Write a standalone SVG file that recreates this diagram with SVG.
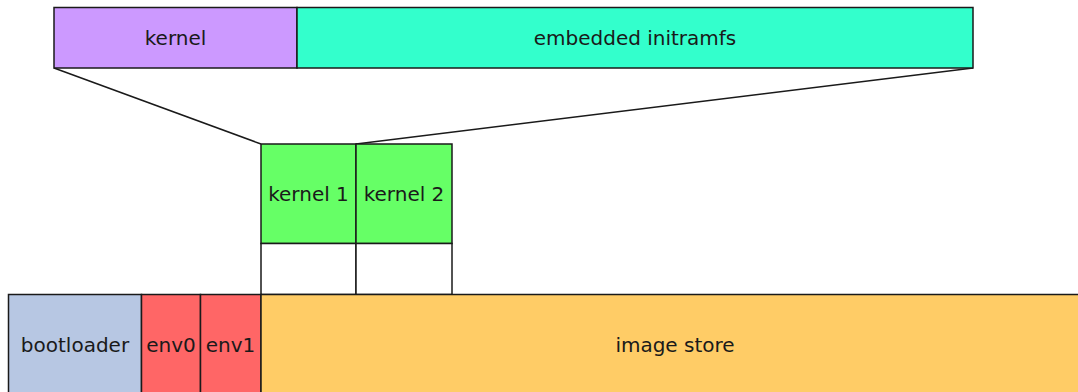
<svg xmlns="http://www.w3.org/2000/svg" width="1078" height="392" viewBox="0 0 1078 392">
  <style>
    .box { stroke: #1a1a1a; stroke-width: 1.5; }
    .conn { stroke: #1a1a1a; stroke-width: 1.5; fill: none; }
    text { font-family: "DejaVu Sans", sans-serif; font-size: 20px; fill: #1a1a1a; text-anchor: middle; dominant-baseline: central; }
  </style>
  <rect x="0" y="0" width="1078" height="392" fill="#ffffff"/>

  <!-- zoom-out lines from the kernel slot to the image layout -->
  <g id="connectors">
    <line class="conn" x1="54" y1="68" x2="261" y2="144"/>
    <line class="conn" x1="973" y1="68" x2="356" y2="144"/>
  </g>

  <!-- kernel image layout -->
  <g id="kernel">
    <rect class="box" x="54" y="7.5" width="243" height="60.5" fill="#cc99ff"/>
    <text x="175.5" y="38">kernel</text>
  </g>
  <g id="initramfs">
    <rect class="box" x="297" y="7.5" width="676" height="60.5" fill="#33ffcc"/>
    <text x="635" y="38">embedded initramfs</text>
  </g>

  <!-- kernel slots -->
  <g id="kernel1">
    <rect class="box" x="261" y="144" width="95" height="99.5" fill="#66ff66"/>
    <rect class="box" x="261" y="243.5" width="95" height="51" fill="#ffffff"/>
    <text x="308.5" y="193.5">kernel 1</text>
  </g>
  <g id="kernel2">
    <rect class="box" x="356" y="144" width="96" height="99.5" fill="#66ff66"/>
    <rect class="box" x="356" y="243.5" width="96" height="51" fill="#ffffff"/>
    <text x="404" y="193.5">kernel 2</text>
  </g>

  <!-- flash layout -->
  <g id="bootloader">
    <rect class="box" x="8.5" y="294.5" width="133" height="110" fill="#b7c7e3"/>
    <text x="75" y="345">bootloader</text>
  </g>
  <g id="env0">
    <rect class="box" x="141.5" y="294.5" width="59" height="110" fill="#ff6666"/>
    <text x="171" y="345">env0</text>
  </g>
  <g id="env1">
    <rect class="box" x="200.5" y="294.5" width="60.5" height="110" fill="#ff6666"/>
    <text x="230.5" y="345">env1</text>
  </g>
  <g id="image-store">
    <rect class="box" x="261" y="294.5" width="830" height="110" fill="#ffcc66"/>
    <text x="675" y="345">image store</text>
  </g>
</svg>
